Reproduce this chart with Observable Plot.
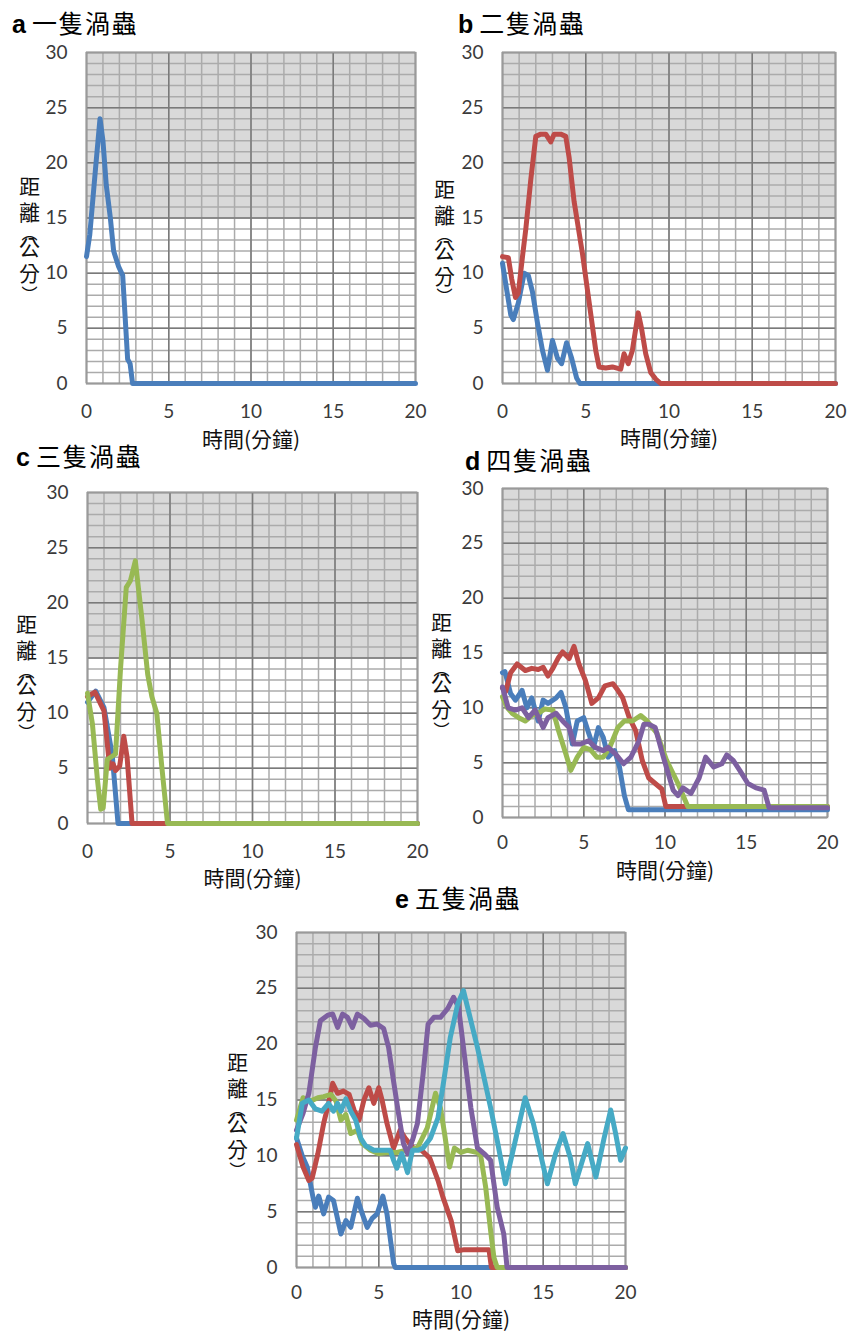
<!DOCTYPE html>
<html>
<head>
<meta charset="utf-8">
<script src="https://cdn.jsdelivr.net/npm/d3@7"></script>
<script src="https://cdn.jsdelivr.net/npm/@observablehq/plot@0.6"></script>
<style>
  html, body { margin: 0; padding: 0; background: #fff; }
  #root { position: relative; width: 848px; height: 1340px; background: #fff; overflow: hidden; }
  .ttl { position: absolute; font-family: "Noto Sans CJK TC", sans-serif; font-size: 25px; line-height: 1; color: #000; white-space: nowrap; letter-spacing: 1.5px; }
  .ttl b { font-family: "Liberation Sans", Arial, sans-serif; font-weight: bold; margin-right: 6px; letter-spacing: 0; }
</style>
</head>
<body>
<div id="root"></div>
<script>
// ---- axis ticks & grid ----
const tickX = [0, 5, 10, 15, 20];
const tickY = [0, 5, 10, 15, 20, 25, 30];
const minorX = [0,1,2,3,4,5,6,7,8,9,10,11,12,13,14,15,16,17,18,19,20];
const minorY = [0,1,2,3,4,5,6,7,8,9,10,11,12,13,14,15,16,17,18,19,20,21,22,23,24,25,26,27,28,29,30];
const shadedBand = [{x1: 0, x2: 20, y1: 15, y2: 30}];

// ---- texts ----
const titles = ["一隻渦蟲", "二隻渦蟲", "三隻渦蟲", "四隻渦蟲", "五隻渦蟲"];
const letters = ["a", "b", "c", "d", "e"];
const xLabel = "時間(分鐘)";
// y label 距離(公分), written vertically (parentheses in their vertical forms)
const yLabelChars = ["距", "離", "︵", "公", "分", "︶"];

// ---- series colours ----
const colors = ["#4A7EBB", "#BE4B48", "#98B954", "#7D60A0", "#46AAC5"];

// ---- data: [time (min), distance (cm)] ----
// a 一隻
const a1 = [[0,11.5],[0.2,13.5],[0.55,19.5],[0.82,24],[1.0,22],[1.2,18],[1.45,15],[1.65,12],[1.95,10.6],[2.2,9.8],[2.35,6],[2.5,2.2],[2.65,1.8],[2.8,0],[20,0]];
// b 二隻
const b1 = [[0,10.9],[0.25,8.5],[0.5,6.2],[0.65,5.8],[0.95,7.3],[1.3,10],[1.55,9.8],[1.8,8.3],[2.1,5.5],[2.4,3],[2.7,1.2],[3.0,3.9],[3.3,2.3],[3.55,1.8],[3.85,3.7],[4.15,2.3],[4.45,0.5],[4.65,0],[20,0]];
const b2 = [[0,11.5],[0.35,11.4],[0.55,9.5],[0.78,7.8],[0.95,8.2],[1.2,11.5],[1.4,14],[1.7,18.5],[2.0,22.4],[2.3,22.6],[2.6,22.6],[2.9,21.9],[3.1,22.6],[3.5,22.6],[3.8,22.4],[4.0,20.5],[4.3,16.5],[4.8,11.8],[5.1,8.5],[5.4,5.2],[5.6,3],[5.8,1.5],[6.2,1.4],[6.6,1.5],[7.1,1.3],[7.3,2.7],[7.55,1.8],[7.8,3],[8.15,6.4],[8.35,5],[8.6,2.7],[8.9,1],[9.2,0.4],[9.5,0],[20,0]];
// c 三隻
const c1 = [[0,11],[0.5,12],[1.0,10.5],[1.5,6.2],[1.85,0],[20,0]];
const c2 = [[0,11.5],[0.45,11.9],[1.0,10.2],[1.35,5],[1.55,5.4],[1.7,4.8],[1.95,5.2],[2.2,7.9],[2.4,6],[2.7,0],[20,0]];
const c3 = [[0,11.8],[0.3,9],[0.6,4],[0.8,1.3],[0.95,1.4],[1.2,5.8],[1.7,6.3],[2.0,14],[2.35,21.4],[2.6,22],[2.9,23.8],[3.3,18.5],[3.65,13.5],[3.9,11.5],[4.2,10],[4.5,5.2],[4.85,0],[20,0]];
// d 四隻
const d1 = [[0,13.2],[0.15,13.3],[0.5,11.3],[0.8,10.7],[1.2,11.6],[1.5,10],[1.8,10.9],[2.2,8.8],[2.5,10.7],[2.8,10.4],[3.3,10.9],[3.6,11.4],[3.9,10],[4.3,6.7],[4.6,8.8],[5.0,9.1],[5.3,7.7],[5.6,6.4],[5.9,8.2],[6.2,7.3],[6.5,5.5],[6.9,6.1],[7.2,4.6],[7.5,2],[7.75,0.7],[20,0.7]];
const d2 = [[0,11.8],[0.2,11.5],[0.5,13.2],[0.9,14],[1.4,13.4],[1.8,13.6],[2.2,13.5],[2.5,13.7],[2.8,12.9],[3.1,13.6],[3.45,14.6],[3.7,15.1],[3.9,14.8],[4.1,14.5],[4.4,15.6],[4.7,14],[5.1,12.5],[5.5,10.4],[5.9,10.9],[6.3,12],[6.8,12.2],[7.1,11.6],[7.4,10.9],[7.8,9.1],[8.2,7.9],[8.6,5.2],[9.0,3.6],[9.4,3.1],[9.8,2.6],[10.05,1.0],[11.5,1.0],[20,1.0]];
const d3 = [[0,11],[0.3,10],[0.6,9.5],[1.0,9.1],[1.4,8.8],[1.8,9.3],[2.2,9.5],[2.6,9.9],[3.1,9.8],[3.45,7.9],[3.9,5.8],[4.2,4.3],[4.6,5.5],[5.0,6.4],[5.4,6.2],[5.8,5.5],[6.2,5.5],[6.6,6.4],[7.1,8.2],[7.5,8.8],[8.0,8.8],[8.5,9.3],[8.9,8.8],[9.5,7.7],[10.1,5.2],[10.8,3.1],[11.4,1.0],[16.3,1.0],[20,1.0]];
const d4 = [[0,11.9],[0.35,10],[0.8,9.8],[1.2,10],[1.6,9.1],[2.0,9.8],[2.5,8.2],[2.8,9.1],[3.3,9.5],[3.7,8.8],[4.1,8.2],[4.4,6.7],[4.8,6.7],[5.3,7.0],[5.7,6.4],[6.2,6.1],[6.5,6.4],[6.95,5.8],[7.45,4.9],[7.9,5.5],[8.4,7.0],[8.7,8.5],[9.0,8.5],[9.4,8.2],[9.9,5.5],[10.5,2.5],[10.8,2.0],[11.1,2.7],[11.6,2.2],[12.1,3.6],[12.5,5.5],[13.0,4.6],[13.5,4.9],[13.8,5.7],[14.2,5.2],[14.6,4.3],[15.1,3.1],[15.6,2.7],[16.1,2.5],[16.4,0.9],[20,0.9]];
// e 五隻
const e1 = [[0,11.6],[0.35,10],[0.65,9],[1.0,6.3],[1.15,5.4],[1.35,6.4],[1.65,4.8],[1.95,6.3],[2.25,6.0],[2.7,3.0],[3.0,4.2],[3.3,3.6],[3.7,6.2],[4.0,4.8],[4.3,3.6],[4.6,4.4],[4.9,4.8],[5.25,6.4],[5.5,4.8],[5.9,0.4],[6.0,0],[20,0]];
const e2 = [[0,11],[0.4,9],[0.75,7.8],[0.95,8],[1.3,10.2],[1.65,12.9],[1.95,14.7],[2.2,16.5],[2.5,15.6],[2.85,15.8],[3.2,15.5],[3.5,14.1],[3.8,13.2],[4.1,15],[4.4,16.1],[4.7,14.7],[5.0,16.1],[5.2,15],[5.5,12.9],[5.9,10.7],[6.3,12.3],[6.6,11.6],[7.1,10.7],[7.6,10.5],[8.1,9.8],[8.6,7.8],[8.9,6.3],[9.4,4.2],[9.8,1.5],[10.2,1.6],[11.7,1.6],[11.85,0],[20,0]];
const e3 = [[0,13.2],[0.4,15.2],[0.85,14.9],[1.3,15.2],[1.65,15.3],[2.1,15.5],[2.4,14.9],[2.7,13.2],[3.0,13.7],[3.3,12],[3.7,12.3],[4.0,11.1],[4.5,10.5],[5.0,10.2],[5.5,10.3],[6.1,10.3],[6.7,10.5],[7.35,10.7],[7.95,12.5],[8.45,15.6],[8.75,14.3],[9.0,12],[9.3,9.0],[9.6,10.7],[10.0,10.3],[10.4,10.5],[11.0,10.3],[11.2,10],[11.5,7.2],[11.8,3.3],[12.0,0.9],[12.2,0],[20,0]];
const e4 = [[0,12.3],[0.4,13.8],[0.75,15.6],[1.15,19.7],[1.45,22.1],[1.9,22.6],[2.2,22.7],[2.5,21.5],[2.8,22.7],[3.1,22.4],[3.4,21.5],[3.7,22.7],[4.1,22.3],[4.5,21.7],[4.9,21.8],[5.3,21.4],[5.6,19.7],[5.9,16.7],[6.2,13.8],[6.5,11.1],[6.75,10.2],[7.05,11.4],[7.35,12.9],[7.7,17.4],[8.0,21.8],[8.35,22.4],[8.75,22.4],[9.2,23.2],[9.55,24.2],[9.85,23.3],[10.15,19.7],[10.6,14.3],[11.0,10.7],[11.4,10.2],[11.8,9.6],[12.2,5.4],[12.6,3.0],[12.8,0],[20,0]];
const e5 = [[0,11.6],[0.35,14.7],[0.75,15],[1.15,14.2],[1.55,14],[1.95,14.7],[2.25,14],[2.5,14.7],[2.7,14],[3.0,15.1],[3.3,14],[3.6,13.2],[3.9,11.6],[4.2,10.9],[4.7,10.5],[5.3,10.5],[5.7,10.5],[5.9,9.6],[6.1,8.9],[6.4,10.2],[6.75,8.5],[7.05,10.5],[7.4,10.5],[7.7,10.7],[8.15,11.6],[8.6,13.4],[8.95,16.7],[9.35,20.6],[9.8,23.6],[10.15,24.8],[11.0,19.7],[11.8,14.3],[12.2,11.4],[12.7,7.5],[13.2,10.7],[13.9,15.2],[14.4,12.9],[15.25,7.5],[15.75,10.2],[16.2,12],[16.65,9.8],[16.95,7.5],[17.7,11.1],[18.2,8.1],[18.7,11.6],[19.1,14.1],[19.4,12],[19.7,9.6],[20,10.7]];

// layout (pixels)
const yLabelCharOffsets = [-50, -24, -4, 11, 37, 57];
const yLabelCharSizes = [21, 21, 16, 21, 21, 16];
const panels = [
  {series: [a1],                 box: {left: 0,   top: 40,  width: 430, height: 420, ml: 86, mr: 15, mt: 12, mb: 77}, tpad: 21, ylx: -57, yly: 19.5, xly: 63, title: {left: 12,  top: 10}},
  {series: [b1, b2],             box: {left: 420, top: 40,  width: 428, height: 420, ml: 82, mr: 13, mt: 12, mb: 77}, tpad: 21, ylx: -58, yly: 22,   xly: 62, title: {left: 458, top: 10}},
  {series: [c1, c2, c3],         box: {left: 0,   top: 480, width: 430, height: 420, ml: 87, mr: 13, mt: 12, mb: 77}, tpad: 21, ylx: -61, yly: 17.5, xly: 62, title: {left: 16,  top: 443}},
  {series: [d1, d2, d3, d4],     box: {left: 420, top: 476, width: 428, height: 418, ml: 82, mr: 21, mt: 12, mb: 77}, tpad: 18, ylx: -61, yly: 20.5, xly: 60, title: {left: 465, top: 447}},
  {series: [e1, e2, e3, e4, e5], box: {left: 210, top: 920, width: 430, height: 420, ml: 86, mr: 15, mt: 12, mb: 73}, tpad: 18, ylx: -59, yly: 13.5, xly: 59, title: {left: 395, top: 885}}
];

const root = document.getElementById("root");
const cjk = "'Noto Sans CJK TC', sans-serif";

panels.forEach((p, i) => {
  const b = p.box;
  const yLabelMarks = yLabelChars.map((ch, k) => Plot.text([ch], {
    frameAnchor: "left", dx: p.ylx, dy: p.yly + yLabelCharOffsets[k],
    textAnchor: "middle", fontSize: yLabelCharSizes[k], fill: "#111", fontFamily: cjk
  }));
  const svg = Plot.plot({
    width: b.width,
    height: b.height,
    marginLeft: b.ml, marginRight: b.mr, marginTop: b.mt, marginBottom: b.mb,
    style: {background: "transparent", fontFamily: "Lato, 'Noto Sans CJK TC', sans-serif", fontSize: "19px", color: "#3a3a3a", overflow: "visible"},
    x: {domain: [0, 20], ticks: tickX, tickSize: 0, tickPadding: p.tpad, label: null},
    y: {domain: [0, 30], ticks: tickY, tickSize: 0, tickPadding: 19, label: null},
    marks: [
      Plot.rect(shadedBand, {x1: "x1", x2: "x2", y1: "y1", y2: "y2", fill: "#d9d9d9"}),
      Plot.ruleX(minorX, {stroke: "#ababab", strokeWidth: 1.5}),
      Plot.ruleY(minorY, {stroke: "#ababab", strokeWidth: 1.5}),
      Plot.ruleX(tickX, {stroke: "#7a7a7a", strokeWidth: 1.5}),
      Plot.ruleY(tickY, {stroke: "#7a7a7a", strokeWidth: 1.5}),
      Plot.frame({stroke: "#9a9a9a", strokeWidth: 1.5}),
      ...p.series.map((s, k) => Plot.line(s, {x: d => d[0], y: d => d[1], stroke: colors[k], strokeWidth: 5, strokeLinejoin: "round", strokeLinecap: "round"})),
      ...yLabelMarks,
      Plot.text([xLabel], {frameAnchor: "bottom", dy: p.xly, fontSize: 21, fill: "#111", fontFamily: cjk})
    ]
  });
  svg.style.position = "absolute";
  svg.style.left = b.left + "px";
  svg.style.top = b.top + "px";
  root.appendChild(svg);

  const tt = document.createElement("div");
  tt.className = "ttl";
  tt.style.left = p.title.left + "px";
  tt.style.top = p.title.top + "px";
  tt.innerHTML = "<b>" + letters[i] + "</b>" + titles[i];
  root.appendChild(tt);
});
</script>
</body>
</html>
